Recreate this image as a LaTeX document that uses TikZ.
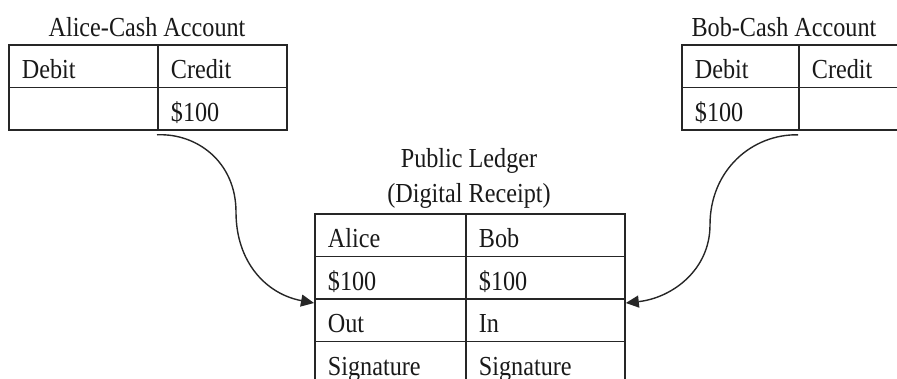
\documentclass[tikz,border=0pt]{standalone}
\usepackage{fontspec}
\setmainfont{Liberation Serif}[FakeStretch=0.88]
\usetikzlibrary{arrows.meta}
\begin{document}
\begin{tikzpicture}[x=1pt,y=-1pt,
  txt/.style={font=\fontsize{27.5}{32}\selectfont, text=black!90},
  cell/.style={txt, draw=black!85, line width=1.8pt, anchor=north west,
    inner xsep=13pt, inner ysep=0pt, text height=25pt, text depth=0pt,
    align=left},
  title/.style={txt, anchor=base, inner sep=0pt},
  flow/.style={draw=black!85, line width=1.4pt,
    -{Triangle[length=13pt,width=12pt]}}]
\useasboundingbox (0,0) rectangle (897,378);
\clip (0,0) rectangle (897,378);

% Alice's cash account
\node[title] (ta) at (147,36) {Alice-Cash Account};
\node[cell, minimum width=149pt, minimum height=42.5pt, text width=123pt] (a11) at (8,44) {Debit};
\node[cell, minimum width=129pt, minimum height=42.5pt, text width=103pt] (a12) at (157,44) {Credit};
\node[cell, minimum width=149pt, minimum height=42.5pt, text width=123pt] (a21) at (8,86.5) {};
\node[cell, minimum width=129pt, minimum height=42.5pt, text width=103pt] (a22) at (157,86.5) {\$100};

% Bob's cash account
\node[title] (tb) at (784,36) {Bob-Cash Account};
\node[cell, minimum width=117pt, minimum height=42.5pt, text width=91pt] (b11) at (681,44) {Debit};
\node[cell, minimum width=130pt, minimum height=42.5pt, text width=104pt] (b12) at (798,44) {Credit};
\node[cell, minimum width=117pt, minimum height=42.5pt, text width=91pt] (b21) at (681,86.5) {\$100};
\node[cell, minimum width=130pt, minimum height=42.5pt, text width=104pt] (b22) at (798,86.5) {};

% Public ledger
\node[title] (tl1) at (469,167) {Public Ledger};
\node[title] (tl2) at (469,202) {(Digital Receipt)};
\node[cell, minimum width=151pt, minimum height=42.5pt, text width=125pt] (l11) at (314,213) {Alice};
\node[cell, minimum width=159pt, minimum height=42.5pt, text width=133pt] (l12) at (465,213) {Bob};
\node[cell, minimum width=151pt, minimum height=42.5pt, text width=125pt] (l21) at (314,255.5) {\$100};
\node[cell, minimum width=159pt, minimum height=42.5pt, text width=133pt] (l22) at (465,255.5) {\$100};
\node[cell, minimum width=151pt, minimum height=42.5pt, text width=125pt] (l31) at (314,298) {Out};
\node[cell, minimum width=159pt, minimum height=42.5pt, text width=133pt] (l32) at (465,298) {In};
\node[cell, minimum width=151pt, minimum height=42.5pt, text width=125pt] (l41) at (314,340.5) {Signature};
\node[cell, minimum width=159pt, minimum height=42.5pt, text width=133pt] (l42) at (465,340.5) {Signature};

% Transfers into the ledger
\coordinate (sa) at ([yshift=-4pt]a22.south west);
\coordinate (ma) at (236,212);
\coordinate (ea) at ([yshift=-5pt]l31.north west);
\draw[flow] (sa) .. controls (197,133) and (236,162) .. (ma)
  .. controls (236,262) and (266,294) .. (ea);

\coordinate (sb) at ([yshift=-4pt]b22.south west);
\coordinate (mb) at (710,225);
\coordinate (eb) at ([yshift=-5pt]l32.north east);
\draw[flow] (sb) .. controls (752,134) and (710,170) .. (mb)
  .. controls (710,270) and (672,298) .. (eb);
\end{tikzpicture}
\end{document}
